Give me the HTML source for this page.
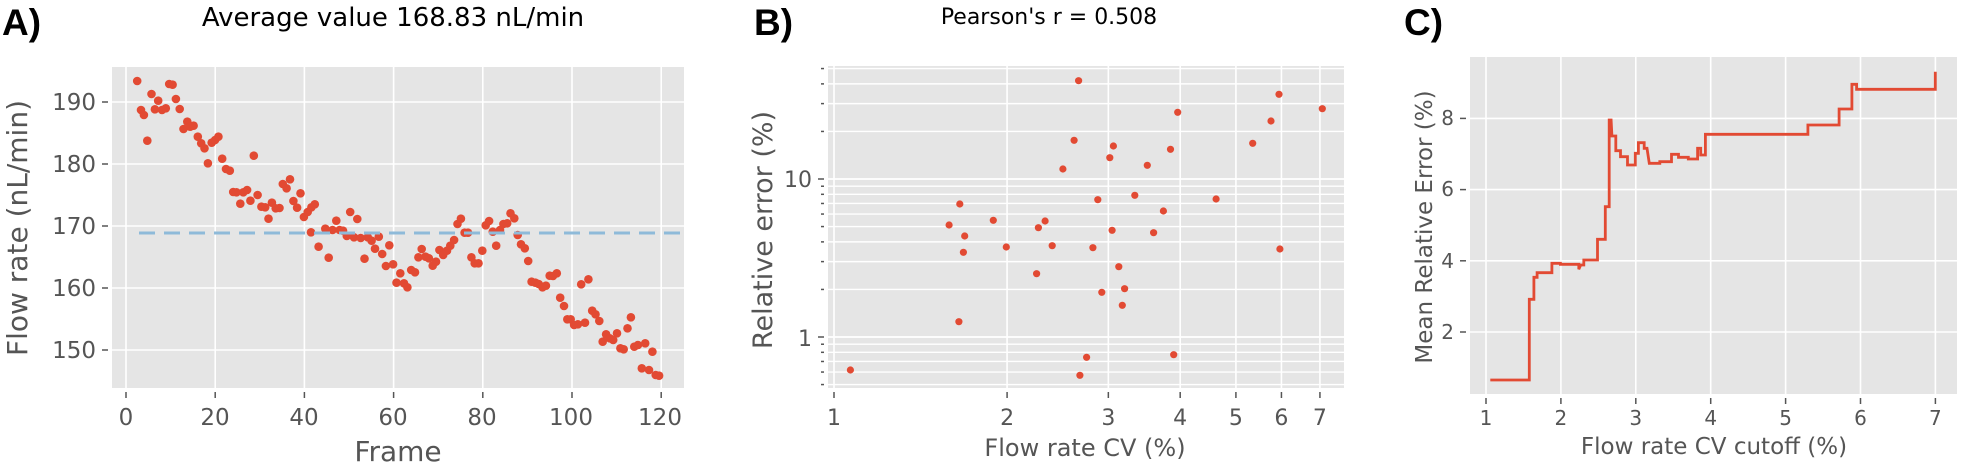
<!DOCTYPE html>
<html><head><meta charset="utf-8">
<style>
html,body{margin:0;padding:0;background:#fff;}
svg{display:block;}
text{font-family:"DejaVu Sans","Liberation Sans",sans-serif;}
.tk{fill:#555;}
.lb{fill:#555;}
</style></head>
<body>
<svg id="s" width="1961" height="466" viewBox="0 0 1961 466" xmlns="http://www.w3.org/2000/svg">
<!-- Panel A -->
<rect x="112" y="67" width="572" height="321" fill="#E5E5E5"/>
<g id="gA" stroke="#fff" stroke-width="1.6"></g>
<g id="ptA" fill="#E24A33"></g>
<line x1="139" y1="233" x2="684" y2="233" stroke="#8EBAD9" stroke-width="3" stroke-dasharray="16,9"/>
<g id="tkA" stroke="#555" stroke-width="1.5"></g>
<g class="tk" font-size="23" text-anchor="end">
<text x="96" y="110">190</text><text x="96" y="172">180</text><text x="96" y="234">170</text><text x="96" y="296">160</text><text x="96" y="358">150</text>
</g>
<g class="tk" font-size="23" text-anchor="middle">
<text x="126" y="425">0</text><text x="215" y="425">20</text><text x="304" y="425">40</text><text x="393" y="425">60</text><text x="482" y="425">80</text><text x="571" y="425">100</text><text x="660" y="425">120</text>
</g>
<text class="lb" x="398" y="461" font-size="28" text-anchor="middle">Frame</text>
<text class="lb" transform="translate(27,228) rotate(-90)" font-size="28" text-anchor="middle">Flow rate (nL/min)</text>
<text x="393" y="26" font-size="26" text-anchor="middle" fill="#000">Average value 168.83 nL/min</text>
<text x="2" y="35" font-size="37" font-weight="bold" fill="#000" style="font-family:'Liberation Sans',sans-serif">A)</text>

<!-- Panel B -->
<rect x="828" y="66" width="516" height="322" fill="#E5E5E5"/>
<g id="gB" stroke="#fff" stroke-width="1.6"></g>
<g id="ptB" fill="#E24A33"></g>
<g id="tkB" stroke="#555" stroke-width="1.5"></g>
<g class="tk" font-size="22" text-anchor="end">
<text x="812" y="187">10</text><text x="812" y="346">1</text>
</g>
<g class="tk" font-size="22" text-anchor="middle" id="xlB"></g>
<text class="lb" x="1085" y="456" font-size="24" text-anchor="middle">Flow rate CV (%)</text>
<text class="lb" transform="translate(772,230) rotate(-90)" font-size="27" text-anchor="middle">Relative error (%)</text>
<text x="1049" y="24" font-size="22" text-anchor="middle" fill="#000">Pearson's r = 0.508</text>
<text x="754" y="35" font-size="37" font-weight="bold" fill="#000" style="font-family:'Liberation Sans',sans-serif">B)</text>

<!-- Panel C -->
<rect x="1470" y="57" width="487" height="337" fill="#E5E5E5"/>
<g id="gC" stroke="#fff" stroke-width="1.6"></g>
<polyline id="lnC" fill="none" stroke="#E24A33" stroke-width="2.8" stroke-linejoin="miter"/>
<g id="tkC" stroke="#555" stroke-width="1.5"></g>
<g class="tk" font-size="20" text-anchor="end">
<text x="1454" y="125">8</text><text x="1454" y="196">6</text><text x="1454" y="268">4</text><text x="1454" y="339">2</text>
</g>
<g class="tk" font-size="20" text-anchor="middle" id="xlC"></g>
<text class="lb" x="1714" y="454" font-size="23" text-anchor="middle">Flow rate CV cutoff (%)</text>
<text class="lb" transform="translate(1432,227) rotate(-90)" font-size="23" text-anchor="middle">Mean Relative Error (%)</text>
<text x="1404" y="35" font-size="37" font-weight="bold" fill="#000" style="font-family:'Liberation Sans',sans-serif">C)</text>
</svg>
<script>
var NS="http://www.w3.org/2000/svg";
function el(p,t,a){var e=document.createElementNS(NS,t);for(var k in a)e.setAttribute(k,a[k]);document.getElementById(p).appendChild(e);return e;}
for(var f=0;f<=120;f+=20){var x=126+f*4.46;el('gA','line',{x1:x,y1:67,x2:x,y2:388});el('tkA','line',{x1:x,y1:392,x2:x,y2:398});}
for(var v=150;v<=190;v+=10){var y=102+(190-v)*6.2;el('gA','line',{x1:112,y1:y,x2:684,y2:y});el('tkA','line',{x1:102,y1:y,x2:108,y2:y});}
var A=[[326,243],[335,330],[342,345],[350,422],[360,282],[368,328],[376,302],[385,330],[394,325],[402,252],[410,254],[418,297],[427,327],[436,387],[445,365],[452,380],[460,377],[470,410],[478,430],[486,445],[494,490],[503,428],[511,420],[519,410],[528,476],[537,507],[546,512],[554,576],[562,577],[571,611],[578,577],[587,570],[595,602],[603,467],[612,585],[621,620],[630,622],[638,656],[646,608],[655,625],[664,624],[672,552],[681,565],[689,538],[697,603],[706,623],[714,580],[722,651],[731,636],[740,622],[748,613],[739,697],[757,740],[773,686],[781,773],[790,690],[799,662],[807,690],[815,692],[824,708],[832,636],[841,712],[849,657],[857,714],[866,776],[874,712],[883,722],[891,746],[900,710],[908,762],[917,798],[925,736],[934,793],[942,848],[951,820],[960,850],[968,862],[977,810],[986,817],[994,772],[1002,747],[1011,770],[1019,775],[1028,797],[1036,785],[1044,750],[1053,765],[1062,752],[1070,737],[1079,720],[1087,672],[1095,656],[1104,698],[1112,698],[1120,772],[1128,790],[1137,790],[1146,752],[1154,676],[1162,663],[1171,695],[1179,737],[1188,690],[1196,672],[1205,670],[1213,640],[1222,655],[1230,705],[1238,733],[1247,745],[1255,783],[1263,845],[1272,848],[1280,852],[1289,862],[1297,857],[1306,827],[1314,828],[1323,820],[1331,893],[1340,918],[1348,958],[1356,958],[1364,975],[1373,973],[1381,853],[1390,968],[1398,838],[1407,932],[1415,943],[1424,963],[1432,1025],[1440,1003],[1449,1015],[1457,1020],[1466,1000],[1474,1045],[1482,1048],[1491,985],[1499,952],[1507,1040],[1516,1035],[1525,1105],[1533,1030],[1542,1110],[1550,1055],[1558,1125],[1566,1127]];
A.forEach(function(p){el('ptA','circle',{cx:(p[0]/2.376).toFixed(1),cy:(p[1]/3).toFixed(1),r:4.3});});
function bx(v){return 834+575*Math.log10(v);}
function by(v){return 179-158*(Math.log10(v)-1);}
for(var i=1;i<=7;i++){var x=bx(i);el('gB','line',{x1:x,y1:66,x2:x,y2:388});el('tkB','line',{x1:x,y1:392,x2:x,y2:398});var t=el('xlB','text',{x:x,y:425});t.textContent=i;}
[0.5,0.6,0.7,0.8,0.9,1,2,3,4,5,6,7,8,9,10,20,30,40,50].forEach(function(v){var y=by(v);if(y<66||y>388)return;var maj=(v==1||v==10);el('gB','line',{x1:828,y1:y,x2:1344,y2:y,'stroke-width':maj?1.8:1.4});el('tkB','line',{x1:maj?818:821,y1:y,x2:824,y2:y});});
var B=[[449,1110],[960,242],[1409,283],[1506,326],[1182,337],[1391,363],[950,421],[1350,430],[1038,438],[1166,448],[1030,473],[1114,496],[925,507],[1086,586],[1003,599],[1268,597],[694,612],[1150,633],[769,661],[670,675],[885,663],[870,683],[1035,691],[1128,698],[705,708],[901,737],[798,741],[992,743],[702,757],[1411,747],[1050,800],[866,821],[1063,866],[1012,877],[1058,916],[692,965],[978,1072],[1173,1064],[963,1126]];
B.forEach(function(p){el('ptB','circle',{cx:(p[0]/2.24+650).toFixed(1),cy:(p[1]/3).toFixed(1),r:3.6});});
function cx(v){return 1486+(v-1)*74.9;}
function cy(v){return 332-(v-2)*35.6;}
for(var i=1;i<=7;i++){var x=cx(i);el('gC','line',{x1:x,y1:57,x2:x,y2:394});el('tkC','line',{x1:x,y1:398,x2:x,y2:404});var t=el('xlC','text',{x:x,y:425});t.textContent=i;}
for(var v=2;v<=8;v+=2){var y=cy(v);el('gC','line',{x1:1470,y1:y,x2:1957,y2:y});el('tkC','line',{x1:1460,y1:y,x2:1466,y2:y});}
var C=[[360,1140],[460,1140],[460,898],[472,898],[472,832],[480,832],[480,818],[518,818],[518,790],[540,790],[540,793],[587,793],[587,808],[592,795],[600,795],[600,780],[635,780],[635,718],[655,718],[655,620],[665,620],[665,360],[670,360],[672,408],[682,408],[682,452],[694,452],[694,470],[712,470],[712,495],[732,495],[732,460],[740,460],[740,428],[755,428],[755,445],[762,445],[768,490],[795,490],[795,485],[825,485],[825,463],[843,463],[843,472],[868,472],[868,477],[892,477],[892,445],[900,445],[900,465],[912,465],[912,403],[1175,403],[1175,375],[1255,375],[1255,327],[1288,327],[1288,253],[1300,253],[1300,268],[1502,268],[1502,215]];
document.getElementById('lnC').setAttribute('points',C.map(function(p){return (p[0]/2.566+1350).toFixed(1)+','+(p[1]/3).toFixed(1);}).join(' '));
</script>
</body></html>
